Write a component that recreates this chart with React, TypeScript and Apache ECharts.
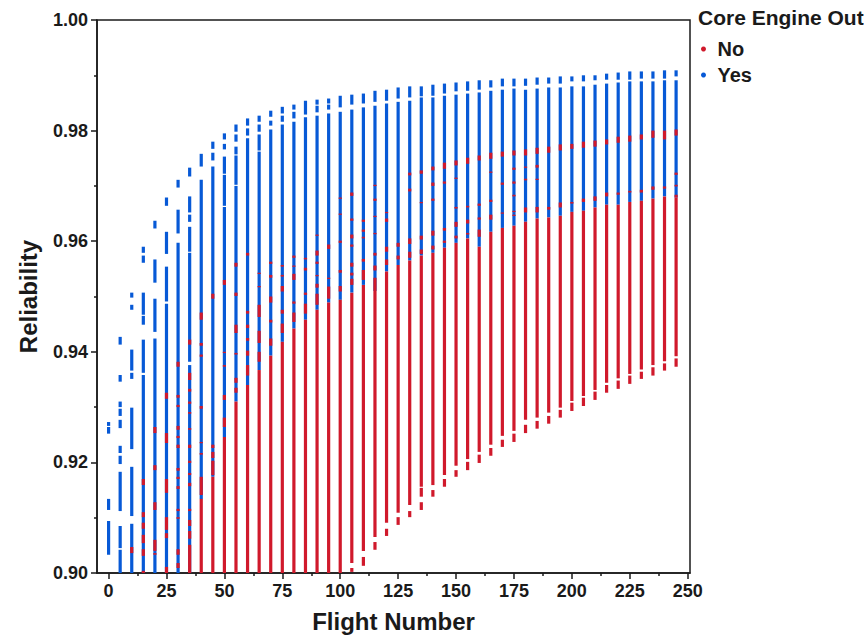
import React, { useEffect, useRef } from "react";
import * as echarts from "echarts";

// Flight-number axis labels (major) and minor ticks
const flightLabels = [0, 25, 50, 75, 100, 125, 150, 175, 200, 225, 250];
const flightMinorTicks = [12.5, 37.5, 62.5, 87.5, 112.5, 137.5, 162.5, 187.5, 212.5, 237.5];

// Reliability ranges [flight, low, high] for "Yes" (core engine out)
const yesSegments: [number, number, number][] = [
  [0, 0.9266, 0.9273], [0, 0.9252, 0.9264], [0, 0.9114, 0.9134], [0, 0.9033, 0.9094],
  [5, 0.9413, 0.9427], [5, 0.9346, 0.9358], [5, 0.93, 0.931], [5, 0.9284, 0.9297], [5, 0.9262, 0.9277],
  [5, 0.9217, 0.923], [5, 0.9197, 0.9212], [5, 0.9112, 0.9183], [5, 0.9045, 0.9085], [5, 0.9, 0.9042],
  [10, 0.9498, 0.9507], [10, 0.9476, 0.9485], [10, 0.9366, 0.9404], [10, 0.9351, 0.9362],
  [10, 0.9224, 0.9299], [10, 0.9103, 0.9192], [10, 0.9, 0.9089],
  [15, 0.9579, 0.959], [15, 0.9561, 0.9574], [15, 0.9467, 0.9507], [15, 0.9449, 0.9465], [15, 0.9362, 0.9422], [15, 0.9, 0.9358],
  [20, 0.9623, 0.9637], [20, 0.9525, 0.9567], [20, 0.9436, 0.9496], [20, 0.9, 0.9424],
  [25, 0.9664, 0.9679], [25, 0.9577, 0.9617], [25, 0.9491, 0.9554], [25, 0.9, 0.9487],
  [30, 0.9697, 0.9711], [30, 0.9614, 0.9657], [30, 0.9, 0.9597],
  [35, 0.9717, 0.9733], [35, 0.9652, 0.9681], [35, 0.9635, 0.9648], [35, 0.9581, 0.9626], [35, 0.9382, 0.9579], [35, 0.9, 0.9376],
  [40, 0.9735, 0.9758], [40, 0.9134, 0.9711],
  [45, 0.9767, 0.978], [45, 0.9746, 0.976], [45, 0.9174, 0.9735],
  [50, 0.9784, 0.9795], [50, 0.9766, 0.9776], [50, 0.9722, 0.9753], [50, 0.9664, 0.972], [50, 0.9246, 0.9662],
  [55, 0.9798, 0.9811], [55, 0.978, 0.9793], [55, 0.9757, 0.9771], [55, 0.9702, 0.9755], [55, 0.931, 0.97],
  [60, 0.9809, 0.9822], [60, 0.9791, 0.9804], [60, 0.934, 0.9786],
  [65, 0.9816, 0.9827], [65, 0.9798, 0.9811], [65, 0.9764, 0.9793], [65, 0.9367, 0.9762],
  [70, 0.9825, 0.9836], [70, 0.9809, 0.9818], [70, 0.9393, 0.9802],
  [75, 0.9831, 0.9843], [75, 0.9816, 0.9827], [75, 0.9418, 0.9811],
  [80, 0.9838, 0.9847], [80, 0.9822, 0.9834], [80, 0.9442, 0.9816],
  [85, 0.9829, 0.9854], [85, 0.9458, 0.9824],
  [90, 0.9847, 0.9856], [90, 0.9833, 0.9845], [90, 0.9476, 0.9827],
  [95, 0.9849, 0.9858], [95, 0.9838, 0.9847], [95, 0.9489, 0.9831],
  [100, 0.9842, 0.9863], [100, 0.9494, 0.9834],
  [105, 0.9847, 0.9865], [105, 0.9507, 0.9838],
  [110, 0.9849, 0.9867], [110, 0.9521, 0.9842],
  [115, 0.9852, 0.9872], [115, 0.951, 0.9845],
  [120, 0.9854, 0.9874], [120, 0.9545, 0.9849],
  [125, 0.9858, 0.9878], [125, 0.9557, 0.9852],
  [130, 0.986, 0.988], [130, 0.9565, 0.9854],
  [135, 0.9862, 0.988], [135, 0.9574, 0.986],
  [140, 0.9863, 0.9883], [140, 0.9579, 0.986],
  [145, 0.9867, 0.9885], [145, 0.9588, 0.9863],
  [150, 0.9871, 0.9887], [150, 0.9597, 0.9865],
  [155, 0.9872, 0.9889], [155, 0.9605, 0.9867],
  [160, 0.9874, 0.9891], [160, 0.959, 0.9869],
  [165, 0.9878, 0.9891], [165, 0.9617, 0.9872],
  [170, 0.988, 0.9894], [170, 0.9624, 0.9874],
  [175, 0.988, 0.9894], [175, 0.9628, 0.9876],
  [180, 0.9881, 0.9894], [180, 0.9635, 0.9874],
  [185, 0.9883, 0.9896], [185, 0.9641, 0.9876],
  [190, 0.9885, 0.9896], [190, 0.9643, 0.9878],
  [195, 0.9885, 0.9898], [195, 0.9646, 0.9878],
  [200, 0.9889, 0.9898], [200, 0.9653, 0.988],
  [205, 0.9889, 0.99], [205, 0.9655, 0.988],
  [210, 0.9891, 0.99], [210, 0.9661, 0.9883],
  [215, 0.9892, 0.9903], [215, 0.9666, 0.9885],
  [220, 0.9892, 0.9905], [220, 0.9666, 0.9887],
  [225, 0.9892, 0.9907], [225, 0.9671, 0.9889],
  [230, 0.9894, 0.9907], [230, 0.9673, 0.9889],
  [235, 0.9894, 0.9907], [235, 0.9677, 0.9889],
  [240, 0.9894, 0.9909], [240, 0.9681, 0.9891],
  [245, 0.9898, 0.9909], [245, 0.9679, 0.9891],
];

// Reliability ranges [flight, low, high] for "No"
const noSegments: [number, number, number][] = [
  [10, 0.9036, 0.9047],
  [15, 0.9159, 0.917], [15, 0.9101, 0.911], [15, 0.908, 0.9091], [15, 0.9054, 0.9069], [15, 0.9031, 0.9043], [15, 0.9, 0.9004],
  [20, 0.9253, 0.9264], [20, 0.9186, 0.9195], [20, 0.9114, 0.9128], [20, 0.904, 0.906], [20, 0.9033, 0.9036],
  [25, 0.9315, 0.9326], [25, 0.9235, 0.9253], [25, 0.9145, 0.917], [25, 0.9078, 0.9101], [25, 0.9063, 0.9072], [25, 0.9, 0.9011],
  [30, 0.9373, 0.9382], [30, 0.9317, 0.9322], [30, 0.93, 0.9304], [30, 0.9259, 0.9266], [30, 0.9244, 0.9248],
  [30, 0.9226, 0.9232], [30, 0.9185, 0.919], [30, 0.917, 0.9174], [30, 0.9152, 0.9157], [30, 0.9112, 0.9116],
  [30, 0.9098, 0.9101], [30, 0.9033, 0.9043], [30, 0.9009, 0.9018],
  [35, 0.9413, 0.9422], [35, 0.9349, 0.9362], [35, 0.9328, 0.9333], [35, 0.9306, 0.931], [35, 0.9288, 0.9291],
  [35, 0.9259, 0.9262], [35, 0.9226, 0.9232], [35, 0.9199, 0.9203], [35, 0.9177, 0.9181], [35, 0.9157, 0.9163],
  [35, 0.9112, 0.9116], [35, 0.9085, 0.9096], [35, 0.9062, 0.9076], [35, 0.9, 0.9051],
  [40, 0.9458, 0.9471], [40, 0.9411, 0.9416], [40, 0.9391, 0.9395], [40, 0.9297, 0.9302], [40, 0.9235, 0.9237],
  [40, 0.9214, 0.9217], [40, 0.9141, 0.9174], [40, 0.9, 0.9134],
  [45, 0.9496, 0.9505], [45, 0.9226, 0.9232], [45, 0.9208, 0.9219], [45, 0.9177, 0.9203], [45, 0.9, 0.9174],
  [50, 0.9521, 0.953], [50, 0.9398, 0.94], [50, 0.9373, 0.9376], [50, 0.9313, 0.9322], [50, 0.9264, 0.9281], [50, 0.9, 0.9246],
  [55, 0.9554, 0.9561], [55, 0.9501, 0.9507], [55, 0.9434, 0.9449], [55, 0.9395, 0.9398], [55, 0.9344, 0.9353],
  [55, 0.9326, 0.9335], [55, 0.9, 0.931],
  [60, 0.9574, 0.9579], [60, 0.9469, 0.9474], [60, 0.9443, 0.9449], [60, 0.942, 0.9425], [60, 0.9393, 0.9402],
  [60, 0.9357, 0.9376], [60, 0.9, 0.934],
  [65, 0.9541, 0.9543], [65, 0.9518, 0.9519], [65, 0.9463, 0.9485], [65, 0.9416, 0.9438], [65, 0.9382, 0.94], [65, 0.9, 0.9367],
  [70, 0.9559, 0.9563], [70, 0.9534, 0.9539], [70, 0.9489, 0.95], [70, 0.9453, 0.9458], [70, 0.9411, 0.9424], [70, 0.9, 0.9393],
  [75, 0.9554, 0.9557], [75, 0.9536, 0.9539], [75, 0.9509, 0.9519], [75, 0.9469, 0.9476], [75, 0.9434, 0.9451], [75, 0.9, 0.9418],
  [80, 0.957, 0.9574], [80, 0.9554, 0.9556], [80, 0.953, 0.9541], [80, 0.9487, 0.9491], [80, 0.9454, 0.9471], [80, 0.9, 0.9442],
  [85, 0.9567, 0.957], [85, 0.9547, 0.9552], [85, 0.9503, 0.9507], [85, 0.9469, 0.9487], [85, 0.9, 0.9458],
  [90, 0.961, 0.9612], [90, 0.9574, 0.9583], [90, 0.9559, 0.9563], [90, 0.9538, 0.9539], [90, 0.9516, 0.9523],
  [90, 0.9485, 0.9505], [90, 0.9, 0.9476],
  [95, 0.9586, 0.9594], [95, 0.9532, 0.9534], [95, 0.9496, 0.9518], [95, 0.9, 0.9489],
  [100, 0.9677, 0.9679], [100, 0.9648, 0.965], [100, 0.9597, 0.9601], [100, 0.9543, 0.9548], [100, 0.9509, 0.9519], [100, 0.9, 0.9494],
  [105, 0.9682, 0.9688], [105, 0.9637, 0.9641], [105, 0.9605, 0.9612], [105, 0.959, 0.9594], [105, 0.9554, 0.9561],
  [105, 0.9538, 0.9543], [105, 0.9521, 0.9532], [105, 0.9018, 0.9507], [105, 0.9002, 0.9009],
  [110, 0.9635, 0.9639], [110, 0.9617, 0.9621], [110, 0.9605, 0.9608], [110, 0.9563, 0.9568], [110, 0.953, 0.9548],
  [110, 0.904, 0.9521], [110, 0.9013, 0.9029],
  [115, 0.97, 0.9702], [115, 0.9673, 0.9677], [115, 0.9644, 0.9646], [115, 0.9614, 0.9615], [115, 0.9574, 0.9579],
  [115, 0.9547, 0.9556], [115, 0.9065, 0.9534], [115, 0.9042, 0.9056],
  [120, 0.9652, 0.9653], [120, 0.9635, 0.9641], [120, 0.9581, 0.959], [120, 0.9557, 0.9567], [120, 0.9091, 0.9545], [120, 0.9067, 0.908],
  [125, 0.959, 0.9597], [125, 0.9567, 0.9574], [125, 0.9109, 0.9557], [125, 0.9087, 0.9101],
  [130, 0.9719, 0.9724], [130, 0.969, 0.9695], [130, 0.9595, 0.9605], [130, 0.957, 0.9581], [130, 0.9123, 0.9565], [130, 0.9101, 0.9112],
  [135, 0.9722, 0.9728], [135, 0.967, 0.9671], [135, 0.9603, 0.961], [135, 0.9577, 0.9585], [135, 0.9156, 0.9574],
  [135, 0.9138, 0.9154], [135, 0.9114, 0.9128],
  [140, 0.9728, 0.9735], [140, 0.97, 0.9706], [140, 0.9673, 0.9677], [140, 0.961, 0.9619], [140, 0.9585, 0.9592],
  [140, 0.9159, 0.9579], [140, 0.9138, 0.915],
  [145, 0.9731, 0.9742], [145, 0.9704, 0.9708], [145, 0.9619, 0.9624], [145, 0.9597, 0.9601], [145, 0.9177, 0.9588], [145, 0.9156, 0.917],
  [150, 0.9737, 0.9746], [150, 0.9713, 0.9715], [150, 0.9659, 0.9662], [150, 0.9626, 0.9635], [150, 0.9605, 0.961],
  [150, 0.9194, 0.9597], [150, 0.9174, 0.9186],
  [155, 0.974, 0.9751], [155, 0.9661, 0.9664], [155, 0.9632, 0.9639], [155, 0.9612, 0.9615], [155, 0.9206, 0.9605], [155, 0.9186, 0.9201],
  [160, 0.9746, 0.9755], [160, 0.9664, 0.9668], [160, 0.9639, 0.9643], [160, 0.9608, 0.9621], [160, 0.9219, 0.959], [160, 0.9199, 0.9214],
  [165, 0.9749, 0.976], [165, 0.9724, 0.9726], [165, 0.9671, 0.9675], [165, 0.9639, 0.9648], [165, 0.9232, 0.9617], [165, 0.9212, 0.9226],
  [170, 0.9753, 0.9762], [170, 0.9702, 0.9706], [170, 0.965, 0.9652], [170, 0.9248, 0.9624], [170, 0.9228, 0.9241],
  [175, 0.9755, 0.9764], [175, 0.9729, 0.9733], [175, 0.9704, 0.9708], [175, 0.9681, 0.9684], [175, 0.9653, 0.9655],
  [175, 0.9646, 0.9648], [175, 0.9257, 0.9628], [175, 0.9237, 0.9252],
  [180, 0.9755, 0.9766], [180, 0.9733, 0.9735], [180, 0.971, 0.9713], [180, 0.9652, 0.9661], [180, 0.9277, 0.9635], [180, 0.9253, 0.9268],
  [185, 0.9758, 0.9769], [185, 0.9733, 0.9738], [185, 0.9711, 0.9713], [185, 0.9652, 0.9662], [185, 0.9281, 0.9641], [185, 0.9261, 0.9275],
  [190, 0.976, 0.9771], [190, 0.9657, 0.9662], [190, 0.929, 0.9643], [190, 0.927, 0.9284],
  [195, 0.9764, 0.9775], [195, 0.9661, 0.967], [195, 0.9299, 0.9646], [195, 0.9281, 0.9295],
  [200, 0.9767, 0.9776], [200, 0.9668, 0.9671], [200, 0.9311, 0.9653], [200, 0.9293, 0.9308],
  [205, 0.9769, 0.978], [205, 0.9671, 0.9677], [205, 0.932, 0.9655], [205, 0.9302, 0.9317],
  [210, 0.9771, 0.9782], [210, 0.9673, 0.9681], [210, 0.9331, 0.9661], [210, 0.9313, 0.9328],
  [215, 0.9775, 0.9784], [215, 0.9681, 0.9688], [215, 0.9344, 0.9666], [215, 0.9326, 0.934],
  [220, 0.9778, 0.9789], [220, 0.9684, 0.9688], [220, 0.9352, 0.9666], [220, 0.9333, 0.9348],
  [225, 0.978, 0.9791], [225, 0.9688, 0.9691], [225, 0.936, 0.9671], [225, 0.9342, 0.9357],
  [230, 0.9784, 0.9793], [230, 0.9688, 0.9693], [230, 0.9368, 0.9673], [230, 0.9351, 0.9364],
  [235, 0.9787, 0.98], [235, 0.9693, 0.9699], [235, 0.9376, 0.9677], [235, 0.9357, 0.9372],
  [240, 0.9784, 0.98], [240, 0.9695, 0.9699], [240, 0.9383, 0.9681], [240, 0.9366, 0.9379],
  [245, 0.9791, 0.9802], [245, 0.972, 0.9724], [245, 0.9699, 0.9702], [245, 0.9679, 0.9684], [245, 0.9392, 0.9679], [245, 0.9373, 0.9388],
];

const RED = "#d0192b";
const BLUE = "#0759d6";
const FONT = "'Liberation Sans', Arial, Helvetica, sans-serif";
const INK = "#1a1a1a";

function makeRender(color: string) {
  return (_params: any, api: any) => {
    const x = api.value(0);
    const lo = api.value(1);
    const hi = api.value(2);
    const pTop = api.coord([x, hi]);
    const pBot = api.coord([x, lo]);
    const w = 3.2;
    const h = Math.max(pBot[1] - pTop[1], 1.3);
    return {
      type: "rect",
      shape: { x: pTop[0] - w / 2, y: pTop[1], width: w, height: h },
      style: { fill: color },
    };
  };
}

export default function App() {
  const ref = useRef<HTMLDivElement>(null);

  useEffect(() => {
    if (!ref.current) return;
    const chart = echarts.init(ref.current, undefined, { renderer: "svg" });
    const axisLineStyle = { color: INK, width: 1.5 };
    chart.setOption({
      animation: false,
      backgroundColor: "#ffffff",
      title: {
        text: "Core Engine Out",
        left: 698,
        top: 7,
        padding: 0,
        textStyle: { fontFamily: FONT, fontWeight: "bold", fontSize: 21, color: INK },
      },
      legend: {
        data: [
          { name: "No", icon: "circle" },
          { name: "Yes", icon: "circle" },
        ],
        orient: "vertical",
        left: 701,
        top: 39,
        padding: 0,
        itemWidth: 18,
        itemHeight: 5,
        itemGap: 6,
        selectedMode: false,
        textStyle: { fontFamily: FONT, fontWeight: "bold", fontSize: 20, color: INK, lineHeight: 20 },
      },
      grid: {
        left: 97,
        right: 174,
        top: 20,
        bottom: 67,
        show: true,
        borderColor: INK,
        borderWidth: 1.5,
        backgroundColor: "transparent",
      },
      xAxis: [
        {
          type: "value",
          min: -5,
          max: 251,
          position: "bottom",
          name: "Flight Number",
          nameLocation: "middle",
          nameGap: 36,
          nameTextStyle: { fontFamily: FONT, fontWeight: "bold", fontSize: 24, color: INK },
          axisLine: { show: true, onZero: false, lineStyle: axisLineStyle },
          axisTick: { show: true, length: 6, lineStyle: axisLineStyle, customValues: flightLabels },
          axisLabel: {
            show: true,
            margin: 9,
            customValues: flightLabels,
            fontFamily: FONT,
            fontWeight: "bold",
            fontSize: 18,
            color: INK,
          },
          splitLine: { show: false },
        },
        {
          type: "value",
          min: -5,
          max: 251,
          position: "bottom",
          axisLine: { show: false, onZero: false },
          axisTick: { show: true, length: 3, lineStyle: axisLineStyle, customValues: flightMinorTicks },
          axisLabel: { show: false },
          splitLine: { show: false },
        },
      ],
      yAxis: {
        type: "value",
        min: 0.9,
        max: 1.0,
        interval: 0.02,
        name: "Reliability",
        nameLocation: "middle",
        nameGap: 57,
        nameRotate: 90,
        nameTextStyle: { fontFamily: FONT, fontWeight: "bold", fontSize: 24, color: INK },
        axisLine: { show: true, onZero: false, lineStyle: axisLineStyle },
        axisTick: { show: true, length: 6, lineStyle: axisLineStyle },
        minorTick: { show: true, splitNumber: 2, length: 3, lineStyle: axisLineStyle },
        axisLabel: {
          margin: 9,
          fontFamily: FONT,
          fontWeight: "bold",
          fontSize: 18,
          color: INK,
          formatter: (v: number) => v.toFixed(2),
        },
        splitLine: { show: false },
        minorSplitLine: { show: false },
      },
      series: [
        {
          name: "Yes",
          type: "custom",
          xAxisIndex: 0,
          yAxisIndex: 0,
          itemStyle: { color: BLUE },
          renderItem: makeRender(BLUE),
          encode: { x: 0, y: [1, 2] },
          data: yesSegments,
          z: 2,
        },
        {
          name: "No",
          type: "custom",
          xAxisIndex: 0,
          yAxisIndex: 0,
          itemStyle: { color: RED },
          renderItem: makeRender(RED),
          encode: { x: 0, y: [1, 2] },
          data: noSegments,
          z: 3,
        },
      ],
    });
    return () => chart.dispose();
  }, []);

  return (
    <div
      ref={ref}
      style={{ position: "fixed", left: 0, top: 0, width: 864, height: 640, background: "#fff" }}
    />
  );
}
